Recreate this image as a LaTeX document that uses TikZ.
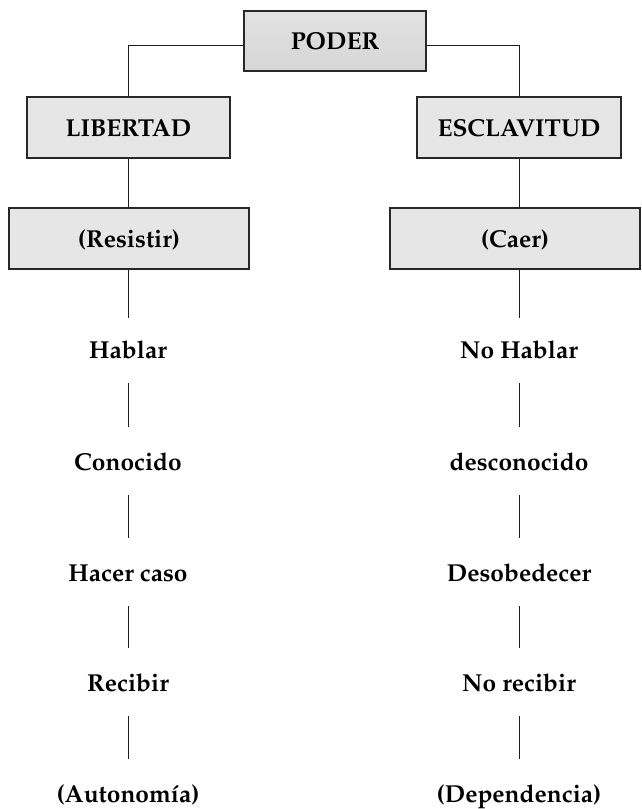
\documentclass[tikz,border=0pt]{standalone}
\usepackage[T1]{fontenc}
\usepackage{mathpazo}
\usetikzlibrary{shadows,calc}
\definecolor{boxfill}{RGB}{230,230,230}
\definecolor{boxedge}{RGB}{40,40,40}
\definecolor{linecol}{RGB}{30,30,30}
\tikzset{
  box/.style={draw=boxedge, line width=1.3pt, fill=boxfill, inner sep=0pt,
    text height=17pt, text depth=0pt,
    font=\fontsize{24.5}{28}\selectfont\bfseries,
    drop shadow={shadow xshift=0.9pt, shadow yshift=-0.9pt, fill=black!65, opacity=1}},
  word/.style={inner sep=0pt, text height=17pt, text depth=0pt, anchor=south,
    font=\fontsize{24.5}{28}\selectfont\bfseries},
  conn/.style={draw=linecol, line width=1pt},
  gapline/.style={conn, shorten <=24pt, shorten >=27pt}
}
\begin{document}
\begin{tikzpicture}[x=1pt,y=-1pt]
\useasboundingbox (0,0) rectangle (641,809);
% boxes
\node[box, minimum width=182pt, minimum height=60pt,
      top color={rgb,255:red,226;green,226;blue,226},
      middle color={rgb,255:red,244;green,244;blue,244},
      bottom color={rgb,255:red,214;green,214;blue,214}] (poder) at (335,41) {PODER};
\node[box, minimum width=203pt, minimum height=61pt] (lib) at (128.5,127.5) {LIBERTAD};
\node[box, minimum width=204pt, minimum height=61pt] (esc) at (519,127.5) {ESCLAVITUD};
\node[box, minimum width=240pt, minimum height=61pt] (res) at (129,238.5) {(Resistir)};
\node[box, minimum width=250pt, minimum height=61pt] (cae) at (515,238.5) {(Caer)};
% left column words (anchored at baseline)
\node[word] (l1) at (128,359) {Hablar};
\node[word] (l2) at (128,471) {Conocido};
\node[word] (l3) at (128,582) {Hacer caso};
\node[word] (l4) at (128,692) {Recibir};
\node[word] (l5) at (128,803) {(Autonomía)};
% right column words
\node[word] (r1) at (519,359) {No Hablar};
\node[word] (r2) at (519,471) {desconocido};
\node[word] (r3) at (519,582) {Desobedecer};
\node[word] (r4) at (519,692) {No recibir};
\node[word] (r5) at (519,803) {(Dependencia)};
% connectors
\coordinate (lcol) at (128,0);
\coordinate (rcol) at (519,0);
\draw[conn] ([yshift=-4pt]poder.west) -| (lib.north);
\draw[conn] ([yshift=-4pt]poder.east) -| (esc.north);
\draw[conn] (lib.south) -- (lib.south |- res.north);
\draw[conn] (esc.south) -- (esc.south |- cae.north);
\draw[conn, shorten >=24pt] (lcol |- res.south) -- (l1.north);
\draw[conn, shorten >=24pt] (rcol |- cae.south) -- (r1.north);
\foreach \a/\b in {l1/l2,l2/l3,l3/l4,l4/l5,r1/r2,r2/r3,r3/r4,r4/r5}{
  \draw[gapline] (\a.south) -- (\b.north);
}
\end{tikzpicture}
\end{document}
